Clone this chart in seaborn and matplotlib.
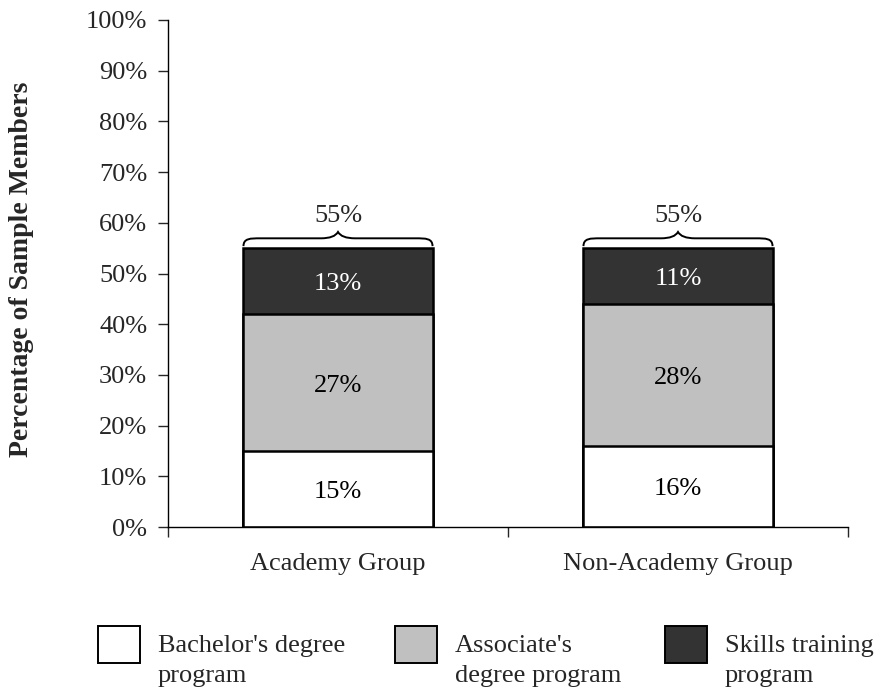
import numpy as np
import pandas as pd
import matplotlib
matplotlib.use('Agg')
import matplotlib.pyplot as plt
from matplotlib.patches import Rectangle
from matplotlib.path import Path
from matplotlib.patches import PathPatch
import seaborn as sns

# Data
groups = ['Academy Group', 'Non-Academy Group']
bachelor = [15, 16]
associate = [27, 28]
skills = [13, 11]
totals = [55, 55]
series_names = ["Bachelor's degree\nprogram", "Associate's\ndegree program", "Skills training\nprogram"]
series_colors = ['#ffffff', '#c0c0c0', '#333333']
label_colors = ['black', 'black', 'white']

sns.set_style('white')
plt.rcParams['font.family'] = ['Liberation Serif', 'DejaVu Serif']
plt.rcParams['font.size'] = 19

fig = plt.figure(figsize=(8.8, 6.94), dpi=100)
ax = fig.add_axes([168 / 880, 1 - 527 / 694, (848 - 168) / 880, (527 - 20) / 694])

segments = [bachelor, associate, skills]
cum = np.cumsum(np.array(segments), axis=0)
bar_w = 0.556

# draw tallest first so lower segments overlay
for i in range(len(segments) - 1, -1, -1):
    df = pd.DataFrame({'group': groups, 'value': cum[i]})
    sns.barplot(data=df, x='group', y='value', color=series_colors[i],
                edgecolor='black', linewidth=1.8, width=bar_w, ax=ax,
                saturation=1)

# segment labels
for i, seg in enumerate(segments):
    for j, v in enumerate(seg):
        mid = cum[i][j] - v / 2
        ax.text(j, mid - 0.6, f'{v}%', ha='center', va='center',
                color=label_colors[i], fontsize=19)

# braces and totals
def brace(ax, x0, x1, y, h):
    xm = (x0 + x1) / 2
    q = h * 0.55
    verts = [(x0, y), (x0, y + q), (x0 + 0.02, y + q), (x0 + 0.05, y + q),
             (xm - 0.05, y + q), (xm - 0.01, y + q), (xm, y + h),
             (xm + 0.01, y + q), (xm + 0.05, y + q),
             (x1 - 0.05, y + q), (x1 - 0.02, y + q), (x1, y + q), (x1, y)]
    codes = [Path.MOVETO, Path.CURVE4, Path.CURVE4, Path.CURVE4,
             Path.LINETO, Path.CURVE3, Path.CURVE3,
             Path.CURVE3, Path.CURVE3,
             Path.LINETO, Path.CURVE4, Path.CURVE4, Path.CURVE4]
    ax.add_patch(PathPatch(Path(verts, codes), fill=False, lw=1.4, color='black'))

for j, t in enumerate(totals):
    brace(ax, j - bar_w / 2, j + bar_w / 2, t + 0.4, 2.8)
    ax.text(j, t + 6.3, f'{t}%', ha='center', va='center', fontsize=19)

ax.set_ylim(0, 100)
ax.set_xlim(-0.5, 1.5)
ax.set_yticks(np.arange(0, 101, 10))
ax.set_yticklabels([f'{v}%' for v in range(0, 101, 10)])
ax.set_xticks([0, 1])
ax.set_xticklabels(groups)
ax.set_xticks([-0.5, 0.5, 1.5], minor=True)
ax.tick_params(axis='x', which='major', length=0, pad=19, labelsize=19)
ax.tick_params(axis='x', which='minor', length=7, width=1, direction='out', bottom=True)
ax.tick_params(axis='y', length=7, width=1, direction='out', left=True, pad=8, labelsize=19)
ax.set_xlabel('')
ax.set_ylabel('')
fig.text(22 / 880, 1 - 269 / 694, 'Percentage of Sample Members', rotation=90,
         ha='center', va='center', fontweight='bold', fontsize=20)
for s in ['top', 'right']:
    ax.spines[s].set_visible(False)
for s in ['left', 'bottom']:
    ax.spines[s].set_color('black')
    ax.spines[s].set_linewidth(1)

# legend drawn manually
box_x = [98, 395, 665]
for k, name in enumerate(series_names):
    x0 = box_x[k]
    fig.add_artist(Rectangle((x0 / 880, 1 - 663 / 694), 42 / 880, 37 / 694,
                             transform=fig.transFigure, facecolor=series_colors[k],
                             edgecolor='black', lw=1.4))
    fig.text((x0 + 60) / 880, 1 - 635 / 694, name, ha='left', va='top',
             fontsize=19, linespacing=1.45)

fig.savefig('out.png', dpi=100)
